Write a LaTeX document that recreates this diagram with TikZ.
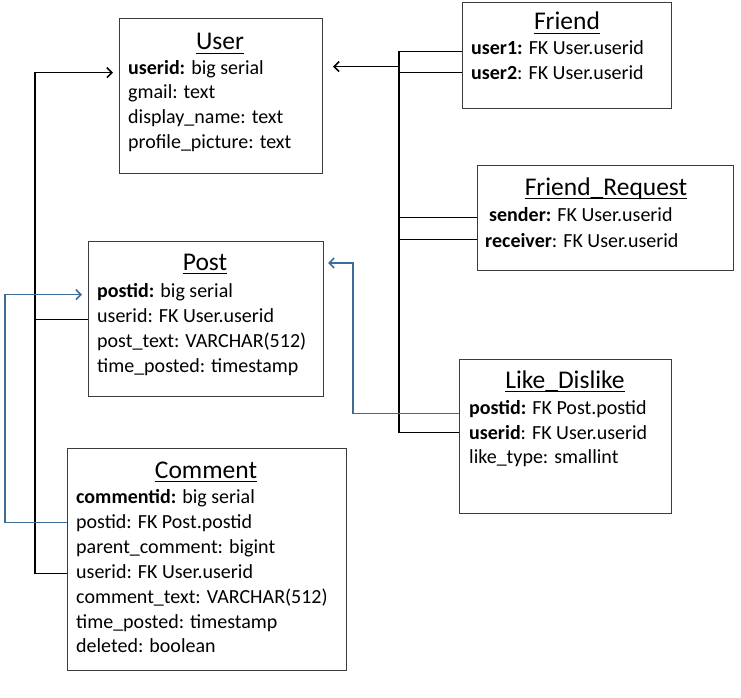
\documentclass[tikz,border=0pt]{standalone}
\usepackage{fontspec}
\setmainfont{Carlito}
\usetikzlibrary{arrows.meta}
\definecolor{fkblue}{RGB}{62,108,152}
\definecolor{boxgray}{RGB}{60,60,60}
\begin{document}
\begin{tikzpicture}[x=1pt,y=-1pt,
  tbl/.style={draw=boxgray,line width=1pt,anchor=north west,inner sep=0pt},
  ttl/.style={anchor=base,inner sep=0pt,font=\fontsize{25.5}{28}\selectfont},
  row/.style={anchor=base west,inner sep=0pt,font=\fontsize{20}{22}\selectfont},
  conn/.style={line width=1.6pt,black},
  fk/.style={line width=1.6pt,fkblue},
  tip/.style={-{Straight Barb[length=5pt,width=10pt]}},
  ul/.style={line width=1.3pt}
]
\useasboundingbox (0,0) rectangle (741,698);

% User
\node[tbl,minimum width=203pt,minimum height=155pt] (user) at (119,18) {};
\node[ttl] (userT) at (220,50) {User};
\node[row] (userR1) at (128,75) {\textbf{userid:} big serial};
\node[row] (userR2) at (128,99) {gmail: text};
\node[row] (userR3) at (128,124) {display\_name: text};
\node[row] (userR4) at (128,149) {profile\_picture: text};

% Friend
\node[tbl,minimum width=209pt,minimum height=106pt] (friend) at (462,2) {};
\node[ttl] (friendT) at (567,30) {Friend};
\node[row] (friendR1) at (471,55) {\textbf{user1:} FK User.userid};
\node[row] (friendR2) at (471,80) {\textbf{user2}: FK User.userid};

% Friend_Request
\node[tbl,minimum width=256pt,minimum height=105pt] (freq) at (477,165) {};
\node[ttl] (freqT) at (606,195) {Friend\_Request};
\node[row] (freqR1) at (489,221) {\textbf{sender:} FK User.userid};
\node[row] (freqR2) at (485,247) {\textbf{receiver}: FK User.userid};

% Post
\node[tbl,minimum width=235pt,minimum height=155pt] (post) at (88,241) {};
\node[ttl] (postT) at (205,270) {Post};
\node[row] (postR1) at (97,297) {\textbf{postid:} big serial};
\node[row] (postR2) at (97,322) {userid: FK User.userid};
\node[row] (postR3) at (97,347) {post\_text: VARCHAR(512)};
\node[row] (postR4) at (97,372) {time\_posted: timestamp};

% Like_Dislike
\node[tbl,minimum width=212pt,minimum height=154pt] (like) at (459,359) {};
\node[ttl] (likeT) at (565,388) {Like\_Dislike};
\node[row] (likeR1) at (469,414) {\textbf{postid:} FK Post.postid};
\node[row] (likeR2) at (469,439) {\textbf{userid}: FK User.userid};
\node[row] (likeR3) at (469,463) {like\_type: smallint};

% Comment
\node[tbl,minimum width=279pt,minimum height=222pt] (comment) at (67,448) {};
\node[ttl] (commentT) at (206,478) {Comment};
\node[row] (commentR1) at (76,503) {\textbf{commentid:} big serial};
\node[row] (commentR2) at (76,528) {postid: FK Post.postid};
\node[row] (commentR3) at (76,553) {parent\_comment: bigint};
\node[row] (commentR4) at (76,578) {userid: FK User.userid};
\node[row] (commentR5) at (76,603) {comment\_text: VARCHAR(512)};
\node[row] (commentR6) at (76,628) {time\_posted: timestamp};
\node[row] (commentR7) at (76,652) {deleted: boolean};

% title underlines
\foreach \t in {userT,friendT,freqT,postT,likeT,commentT}
  \draw[ul] ([yshift=-3.5pt]\t.base west) -- ([yshift=-3.5pt]\t.base east);

% bus coordinates and branch levels
\coordinate (lbus) at (35,0);
\coordinate (bbus) at (5,0);
\coordinate (rbus) at (399,0);
\coordinate (bvr) at (353,0);
\coordinate (uin) at ([yshift=6pt]userR1.mid);
\coordinate (fr1) at ([yshift=1pt]friendR1.mid);
\coordinate (fr2) at ([yshift=5pt]friendR2.mid);
\coordinate (fq1) at ([yshift=1pt]freqR1.mid);
\coordinate (fq2) at ([yshift=5pt]freqR2.mid);
\coordinate (lk1) at ([yshift=-2pt]likeR1.mid);
\coordinate (lk2) at ([yshift=4pt]likeR2.mid);
\coordinate (cm2) at ([yshift=3pt]commentR2.mid);
\coordinate (cm4) at ([yshift=2pt]commentR4.mid);
\coordinate (ptin) at ([yshift=7pt]postT.base);

% left black bus: Post.userid, Comment.userid -> User.userid
\draw[conn,tip,shorten >=6pt] (comment.west |- cm4) -- (lbus |- cm4)
  -- (lbus |- userR1.mid) -- (user.west |- userR1.mid);
\draw[conn] (post.west |- postR2.mid) -- (lbus |- postR2.mid);

% left blue bus: Comment.postid -> Post.postid
\draw[fk,tip,shorten >=6pt] (comment.west |- cm2) -- (bbus |- cm2)
  -- (bbus |- postR1.mid) -- (post.west |- postR1.mid);

% right black bus: Friend, Friend_Request, Like_Dislike -> User
\draw[conn] (like.west |- lk2) -- (rbus |- lk2) -- (rbus |- fr1) -- (friend.west |- fr1);
\draw[conn] (friend.west |- fr2) -- (rbus |- fr2);
\draw[conn] (freq.west |- fq1) -- (rbus |- fq1);
\draw[conn] (freq.west |- fq2) -- (rbus |- fq2);
\draw[conn,tip,shorten >=10pt] (rbus |- uin) -- (user.east |- uin);

% blue: Like_Dislike.postid -> Post
\draw[fk,tip,shorten >=4pt] (like.west |- lk1) -- (bvr |- lk1)
  -- (bvr |- ptin) -- (post.east |- ptin);
\end{tikzpicture}
\end{document}
